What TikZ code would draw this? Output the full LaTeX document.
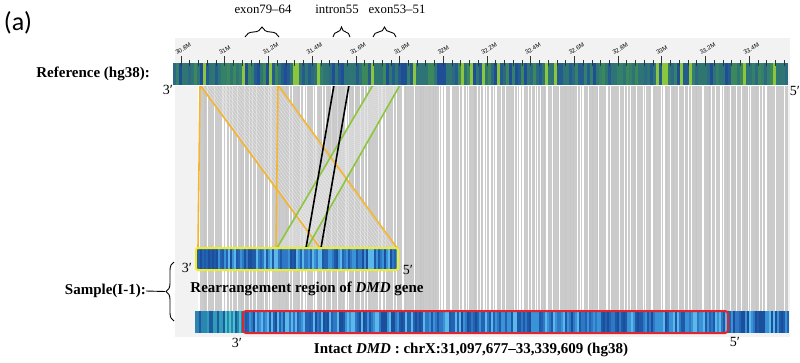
\documentclass[tikz,border=0pt]{standalone}
\usepackage{fontspec}
\setmainfont{Liberation Serif}
\newfontfamily\panelfont{Carlito}
\newfontfamily\tickfont{Liberation Sans}
\usetikzlibrary{decorations.pathreplacing, calc}

\definecolor{panelbg}{HTML}{F3F2F2}
\definecolor{linkgray}{HTML}{CBCBCB}
\definecolor{linkorange}{HTML}{F5B52E}
\definecolor{linkgreen}{HTML}{8CC63F}
\definecolor{boxyellow}{HTML}{F0EC28}
\definecolor{boxred}{HTML}{E0252E}
% reference bar
\definecolor{refc1}{HTML}{1F4E96}
\definecolor{refc2}{HTML}{2B6A80}
\definecolor{refc3}{HTML}{2F7672}
\definecolor{refc4}{HTML}{3C875C}
\definecolor{refc5}{HTML}{8CC63F}
\definecolor{refc6}{HTML}{245C8E}
\definecolor{refc7}{HTML}{2E7476}
\definecolor{refc8}{HTML}{34806A}
% sample bars
\definecolor{samc1}{HTML}{1B4F9C}
\definecolor{samc2}{HTML}{2463B2}
\definecolor{samc3}{HTML}{2E78C6}
\definecolor{samc4}{HTML}{5DB8EA}
\definecolor{samc5}{HTML}{1E5AA8}
\definecolor{samc6}{HTML}{3A93D6}
\definecolor{tailc1}{HTML}{1E5AA0}
\definecolor{tailc2}{HTML}{2A86B0}
\definecolor{tailc3}{HTML}{46C3CB}
\definecolor{tailc4}{HTML}{2F9DB8}

\begin{document}
\begin{tikzpicture}[x=1pt, y=-1pt,
    boldlab/.style={font=\fontsize{15}{18}\selectfont\bfseries, inner sep=0pt},
    primelab/.style={font=\fontsize{14}{16}\selectfont, inner sep=0pt},
    genelab/.style={font=\fontsize{12.8}{15}\selectfont, inner sep=0pt},
    ticklab/.style={font=\tickfont\fontsize{6}{6}\selectfont, inner sep=0pt, rotate=30, anchor=south west},
    genebrace/.style={decorate, decoration={brace, amplitude=10pt}, line width=0.9pt},
    link/.style={line width=1.6pt}]

    \useasboundingbox (0,0) rectangle (800,362);
    \pgfmathsetseed{42}

    % Panel
    \fill[panelbg] (175,38) rectangle (790,337);

    % Alignment end points
    \coordinate (rA) at (200,85);
    \coordinate (rB) at (278,85);
    \coordinate (rK1) at (334,85);
    \coordinate (rK2) at (349,85);
    \coordinate (rG1) at (373,85);
    \coordinate (rG2) at (400,85);
    \coordinate (sA) at (198,248);
    \coordinate (sB) at (276,248);
    \coordinate (sC) at (320,248);
    \coordinate (sD) at (397,248);
    \coordinate (sK1) at (306,248);
    \coordinate (sK2) at (321,248);
    \coordinate (sG1) at (277,248);
    \coordinate (sG2) at (307,248);

    % Gray alignment lines
    \fill[linkgray] (198,85) rectangle (788,311);
    \foreach \i in {0,...,392} {
        \pgfmathtruncatemacro\r{100*rnd}
        \pgfmathsetmacro\w{0.25+0.45*rnd}
        \ifnum\r<30
            \draw[white, line width=\w pt] (198+1.5*\i,85) -- (198+1.5*\i,311);
        \else
            \ifnum\r>80
                \draw[gray!45, line width=\w pt] (198+1.5*\i,85) -- (198+1.5*\i,311);
            \fi
        \fi
    }

    % Rearranged bands
    \fill[linkgray, opacity=0.7] (rA) -- (rB) -- (sD) -- (sC) -- cycle;
    \fill[linkgray, opacity=0.7] (rG1) -- (rG2) -- (sG2) -- (sG1) -- cycle;
    \fill[linkgray, opacity=0.7] (rK1) -- (rK2) -- (sK2) -- (sK1) -- cycle;
    \foreach \t in {0.03,0.07,...,1} {
        \draw[white, opacity=0.55, line width=0.4pt] ($(rA)!\t!(rB)$) -- ($(sC)!\t!(sD)$);
        \draw[white, opacity=0.45, line width=0.4pt] ($(rG1)!\t!(rG2)$) -- ($(sG1)!\t!(sG2)$);
    }

    % Coloured links
    \draw[link, linkorange] (rA) -- (sA);
    \draw[link, linkorange] (rA) -- (sC);
    \draw[link, linkorange] (rB) -- (sB);
    \draw[link, linkorange] (rB) -- (sD);
    \draw[link, linkgreen] (rG1) -- (sG1);
    \draw[link, linkgreen] (rG2) -- (sG2);
    \draw[link, black] (rK1) -- (sK1);
    \draw[link, black] (rK2) -- (sK2);

    % Reference bar
    \foreach \i in {0,...,204} {
        \pgfmathrandominteger{\k}{1}{8}
        \fill[refc\k] (173+3*\i,63) rectangle ++(3.05,22);
    }
    \draw[white, line width=0.8pt] (173,85) -- (788,85);

    % Ticks
    \foreach \k in {0,...,69} {
        \draw[black!80, line width=0.5pt] (181+8.74*\k,60) -- (181+8.74*\k,66);
    }
    \foreach \lab [count=\n from 0] in {30.8M,31M,31.2M,31.4M,31.6M,31.8M,32M,32.2M,32.4M,32.6M,32.8M,33M,33.2M,33.4M} {
        \draw[black!80, line width=0.6pt] (181+43.7*\n,56) -- (181+43.7*\n,66);
        \node[ticklab] (tick\n) at (177+43.7*\n,55) {\lab};
    }

    % Sample bar (rearrangement region)
    \foreach \i in {0,...,100} {
        \pgfmathrandominteger{\k}{1}{6}
        \fill[samc\k] (196+2*\i,248) rectangle ++(2.05,22);
    }
    \draw[boxyellow, line width=2pt, rounded corners=2pt] (196,248) rectangle (398,270);

    % Intact bar
    \foreach \i in {0,...,296} {
        \pgfmathrandominteger{\k}{1}{6}
        \fill[samc\k] (195+2*\i,311) rectangle ++(2.05,22);
    }
    \foreach \i in {0,...,23} {
        \pgfmathrandominteger{\k}{1}{4}
        \fill[tailc\k] (195+2*\i,311) rectangle ++(2.05,22);
    }
    \draw[boxred, line width=2pt, rounded corners=3pt] (243,311) rectangle (728,333);

    % Gene braces
    \draw[genebrace] (245,37) -- (279,37);
    \draw[genebrace] (333,37) -- (350,37);
    \draw[genebrace] (373,37) -- (396,37);
    \node[genelab] (exonA) at (263,9) {exon79--64};
    \node[genelab] (intron) at (337,9) {intron55};
    \node[genelab] (exonB) at (397,9) {exon53--51};

    % Labels
    \node[font=\panelfont\fontsize{26}{30}\selectfont, inner sep=0pt] (panel) at (18,23) {(a)};
    \node[boldlab, anchor=east] (reflab) at (150,74) {Reference (hg38):};
    \node[primelab] (ref3) at (168,90) {3′};
    \node[primelab] (ref5) at (795,91) {5′};
    \node[primelab] (sam3) at (187,268) {3′};
    \node[primelab] (sam5) at (408,270) {5′};
    \node[boldlab] (rearr) at (307,289) {Rearrangement region of \textit{DMD} gene};
    \node[primelab] (int3) at (237,343) {3′};
    \node[primelab] (int5) at (735,342) {5′};
    \node[boldlab] (intact) at (471,350) {Intact \textit{DMD} : chrX:31,097,677--33,339,609 (hg38)};

    % Sample brace
    \node[boldlab, anchor=east] (samplab) at (146,291) {Sample(I-1):};
    \coordinate (sampbrace) at (165,291.5);
    \draw[genebrace, decoration={brace, amplitude=8pt}] (174,321) -- (174,262);
    \draw[line width=0.9pt] (samplab.east) -- (sampbrace);
\end{tikzpicture}
\end{document}
